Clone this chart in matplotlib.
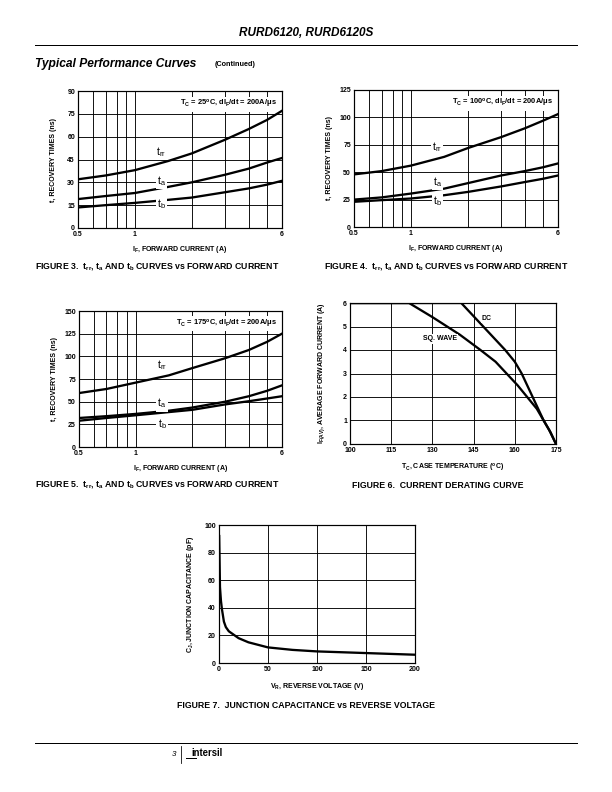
import matplotlib
matplotlib.use("Agg")
import matplotlib.pyplot as plt

plt.rcParams['font.family'] = ['Liberation Sans Narrow', 'Liberation Sans', 'DejaVu Sans']
plt.rcParams['mathtext.default'] = 'regular'

# Figures 3-5: recovery times vs forward current
i_f = [0.5, 0.7, 1.0, 1.5, 2.0, 3.0, 4.0, 5.0, 6.0]
trr_25 = [32, 34.5, 38, 44, 49, 58, 65, 71, 77]
ta_25 = [19, 21, 23, 27, 30, 35, 39, 43, 46]
tb_25 = [13.5, 15, 16.5, 18.5, 20, 23.5, 26, 28.5, 31]

trr_100 = [48, 51, 56, 64, 72, 82, 90, 97, 103]
ta_100 = [25, 27, 30.5, 35, 40, 47, 51, 54.5, 58]
tb_100 = [23, 24.5, 26, 29, 32, 37, 41, 44, 47]

trr_175 = [59.5, 64, 71, 79, 87, 98, 107, 116, 125]
ta_175 = [32, 34, 36.5, 40, 43.5, 50, 56, 62, 68]
tb_175 = [29, 32, 35, 38.5, 41, 47, 50.5, 53.5, 56]

if_grid = [0.5, 0.6, 0.7, 0.8, 0.9, 1, 2, 3, 4, 5, 6]
if_labels = ['0.5', '', '', '', '', '1', '', '', '', '', '6']

# Figure 6: derating
tc_dc = [100, 140.5, 144.5, 148.5, 152.5, 156.5, 160, 162.5, 166.5, 170.5, 173, 175]
i_dc = [6, 6, 5.5, 5, 4.5, 4, 3.5, 3, 2, 1, 0.5, 0]
tc_sq = [100, 121.5, 130, 140, 147.5, 153, 157, 161, 164.5, 168, 170.5, 172.5, 175]
i_sq = [6, 6, 5.4, 4.65, 4, 3.5, 3, 2.5, 2, 1.5, 1, 0.6, 0]

# Figure 7: junction capacitance
v_r = [0.2, 1, 2, 3, 5, 7, 10, 15, 20, 30, 50, 75, 100, 150, 200]
c_j = [92, 55, 45, 39, 30, 26, 23, 20.5, 18, 15, 11.3, 9.5, 8.4, 7.2, 6]

W, H = 612, 792
fig = plt.figure(figsize=(W / 72, H / 72), dpi=72)


def box(l, t, r, b):
    # pixel box -> figure fraction
    return [l / W, 1 - b / H, (r - l) / W, (b - t) / H]


def ftext(x, y, s, **kw):
    fig.text(x / W, 1 - y / H, s, **kw)


def style(ax):
    ax.grid(True, color='black', lw=0.9)
    ax.set_axisbelow(True)
    for sp in ax.spines.values():
        sp.set_linewidth(1.2)
    ax.tick_params(length=0, pad=3, labelsize=7)
    for lab in ax.get_xticklabels() + ax.get_yticklabels():
        lab.set_fontweight('bold')


def recovery_plot(rect, trr, ta, tb, ymax, ystep, note, lab_y):
    ax = fig.add_axes(rect)
    ax.set_xscale('log')
    ax.plot(i_f, trr, color='black', lw=2.3)
    ax.plot(i_f, ta, color='black', lw=2.3)
    ax.plot(i_f, tb, color='black', lw=2.3)
    ax.set_xlim(0.5, 6)
    ax.set_ylim(0, ymax)
    ax.set_xticks(if_grid)
    ax.set_xticklabels(if_labels)
    ax.xaxis.set_minor_locator(matplotlib.ticker.NullLocator())
    ax.set_yticks(range(0, ymax + 1, ystep))
    style(ax)
    ax.set_xlabel('I$_F$, FORWARD CURRENT (A)', fontsize=7, fontweight='bold')
    ax.set_ylabel('t, RECOVERY TIMES (ns)', fontsize=7, fontweight='bold')
    ax.xaxis.set_label_coords(0.5, -0.115)
    ax.yaxis.set_label_coords(-0.105, 0.5)
    ax.text(0.975, 0.905, note, transform=ax.transAxes, ha='right', va='center',
            fontsize=7.5, fontweight='bold',
            bbox=dict(facecolor='white', edgecolor='none', pad=1.5))
    for name, yv in zip(['t$_{rr}$', 't$_a$', 't$_b$'], lab_y):
        ax.text(1.38, yv, name, ha='center', va='center', fontsize=10.5,
                bbox=dict(facecolor='white', edgecolor='none', pad=1.2))
    return ax


recovery_plot(box(78, 91, 282, 228), trr_25, ta_25, tb_25, 90, 15,
              'T$_C$ = 25$^o$C, dI$_F$/dt = 200A/$\\mu$s', [50, 31, 15.5])
recovery_plot(box(354, 90, 558, 227), trr_100, ta_100, tb_100, 125, 25,
              'T$_C$ = 100$^o$C, dI$_F$/dt = 200A/$\\mu$s', [73, 41, 24])
recovery_plot(box(79, 311, 282, 447), trr_175, ta_175, tb_175, 150, 25,
              'T$_C$ = 175$^o$C, dI$_F$/dt = 200A/$\\mu$s', [90, 48, 25.5])

# Figure 6
ax6 = fig.add_axes(box(350, 303, 556, 444))
ax6.plot(tc_dc, i_dc, color='black', lw=2.3)
ax6.plot(tc_sq, i_sq, color='black', lw=2.3)
ax6.set_xlim(100, 175)
ax6.set_ylim(0, 6)
ax6.set_xticks(range(100, 176, 15))
ax6.set_yticks(range(0, 7))
style(ax6)
ax6.set_xlabel('T$_C$, CASE TEMPERATURE ($^o$C)', fontsize=7, fontweight='bold')
ax6.set_ylabel('I$_{F(AV)}$, AVERAGE FORWARD CURRENT (A)', fontsize=7, fontweight='bold')
ax6.xaxis.set_label_coords(0.5, -0.13)
ax6.yaxis.set_label_coords(-0.11, 0.5)
ax6.text(149.8, 5.36, 'DC', ha='center', va='center', fontsize=7, fontweight='bold',
         bbox=dict(facecolor='white', edgecolor='none', pad=1.2))
ax6.text(132.8, 4.47, 'SQ. WAVE', ha='center', va='center', fontsize=7, fontweight='bold',
         bbox=dict(facecolor='white', edgecolor='none', pad=1.2))

# Figure 7
ax7 = fig.add_axes(box(219, 525, 415, 663))
ax7.plot(v_r, c_j, color='black', lw=2.3)
ax7.set_xlim(0, 200)
ax7.set_ylim(0, 100)
ax7.set_xticks(range(0, 201, 50))
ax7.set_yticks(range(0, 101, 20))
style(ax7)
ax7.set_xlabel('V$_R$, REVERSE VOLTAGE (V)', fontsize=7, fontweight='bold')
ax7.set_ylabel('C$_J$, JUNCTION CAPACITANCE (pF)', fontsize=7, fontweight='bold')
ax7.xaxis.set_label_coords(0.5, -0.128)
ax7.yaxis.set_label_coords(-0.117, 0.5)

# page text
ftext(306, 33, 'RURD6120, RURD6120S', ha='center', va='center', fontsize=11.8,
      fontweight='bold', style='italic', family=['Liberation Sans', 'DejaVu Sans'])
fig.add_artist(plt.Line2D([35 / W, 577 / W], [1 - 45 / H, 1 - 45 / H], color='black', lw=1))
ftext(35, 64, 'Typical Performance Curves', ha='left', va='center', fontsize=12,
      fontweight='bold', style='italic', family=['Liberation Sans', 'DejaVu Sans'])
ftext(215, 65, '(Continued)', ha='left', va='center', fontsize=7.2, fontweight='bold')

cap = dict(ha='center', va='center', fontsize=8.7, fontweight='bold')
ftext(157, 266, 'FIGURE 3.  t$_{rr}$, t$_a$ AND t$_b$ CURVES vs FORWARD CURRENT', **cap)
ftext(446, 266, 'FIGURE 4.  t$_{rr}$, t$_a$ AND t$_b$ CURVES vs FORWARD CURRENT', **cap)
ftext(157, 485, 'FIGURE 5.  t$_{rr}$, t$_a$ AND t$_b$ CURVES vs FORWARD CURRENT', **cap)
ftext(438, 486, 'FIGURE 6.  CURRENT DERATING CURVE', **cap)
ftext(306, 706, 'FIGURE 7.  JUNCTION CAPACITANCE vs REVERSE VOLTAGE', **cap)

# footer
fig.add_artist(plt.Line2D([35 / W, 577 / W], [1 - 743 / H, 1 - 743 / H], color='black', lw=1))
fig.add_artist(plt.Line2D([181 / W, 181 / W], [1 - 746 / H, 1 - 763 / H], color='black', lw=0.8))
ftext(176, 754, '3', ha='right', va='center', fontsize=8, style='italic')
ftext(191, 753, 'intersil', ha='left', va='center', fontsize=9.5, fontweight='bold',
      family=['Liberation Sans', 'DejaVu Sans'])
fig.add_artist(plt.Line2D([186 / W, 196 / W], [1 - 758 / H, 1 - 758 / H], color='black', lw=1))

fig.savefig('out.png', dpi=72)
